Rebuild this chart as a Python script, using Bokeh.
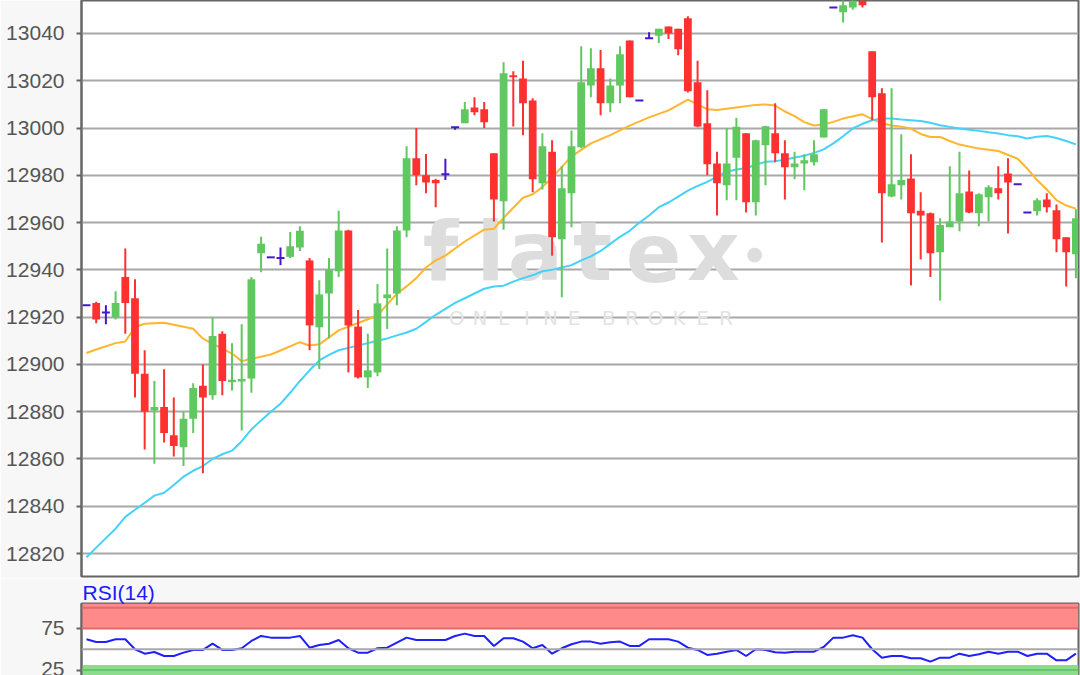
import numpy as np
from bokeh.plotting import figure
from bokeh.models import (Range1d, FixedTicker, Span, BoxAnnotation, Label,
                          ColumnDataSource, Title)
from bokeh.layouts import column
from bokeh.embed import file_html
from bokeh.resources import INLINE

# ---------------- data ----------------
opens = [12925, 12926, 12922, 12920, 12937, 12928, 12896, 12880.5, 12882, 12870,
         12865, 12877, 12891, 12887, 12913, 12892.5, 12892.8, 12894, 12947, 12945.3,
         12945, 12945.5, 12949.5, 12944, 12915.7, 12930, 12939.4, 12956.7, 12916, 12894.5,
         12896.6, 12928, 12930, 12956.7, 12987.2, 12980, 12978, 12980.4, 13000.3, 13002,
         13008.7, 13008, 12989.3, 12969, 13022.3, 13021, 13011.7, 12976.6, 12990, 12953,
         12972.4, 12991.9, 13018, 13025.3, 13010.5, 13018, 13037, 13011.7, 13038, 13039,
         13043, 13042, 13046.5, 13019.4, 13002, 12985, 12975.8, 12987.4, 12997.8, 12968.6,
         12992.7, 12997.8, 12989.3, 12983.4, 12985, 12985.5, 12996, 13051, 13049, 13051,
         13058, 13032.5, 13014.7, 12971, 12975.8, 12978.7, 12965, 12964, 12947.4, 12958,
         12960.5, 12973.2, 12964, 12970.7, 12974.5, 12980.8, 12976.2, 12964.3, 12964.8, 12969.8,
         12965.2, 12953.8, 12946.6]
highs = [12925, 12926.5, 12925, 12931, 12949, 12936, 12906, 12893, 12898, 12886,
         12880, 12892, 12900, 12920, 12914, 12909, 12917, 12937, 12954, 12945.3,
         12949.5, 12956, 12958.5, 12945, 12935.6, 12945, 12965, 12957, 12923, 12913,
         12934, 12949, 12958.4, 12992.3, 13000, 12989, 12978.5, 12987, 13000.3, 13011,
         13013, 13011, 12989.3, 13027.8, 13024, 13028.5, 13012.6, 12997.8, 12994.8, 12983.8,
         12999, 13034.6, 13033.8, 13033, 13021, 13034.6, 13037, 13011.7, 13040.5, 13042,
         13043, 13042, 13047.3, 13028.5, 13016, 12990, 13000, 13004.3, 12997.8, 12995,
         13001, 13010.5, 12994.8, 12990, 12988.9, 12994.8, 13008, 13051, 13055, 13058,
         13060, 13032.5, 13016.8, 13016.8, 12997.4, 12988.9, 12972.8, 12964.3, 12961.8, 12983.8,
         12990, 12982, 12972.4, 12975.8, 12983.8, 12987.2, 12976.2, 12964.3, 12970.3, 12972.4,
         12967.7, 12953.8, 12965.6]
lows = [12925, 12917.4, 12917, 12919, 12913, 12886, 12864, 12858, 12867, 12861,
        12857, 12871, 12854, 12885, 12887, 12889, 12872, 12888, 12939, 12945.3,
        12942, 12945, 12948, 12906, 12898, 12911, 12937, 12896.6, 12894, 12890,
        12895, 12915, 12925, 12953.8, 12975.8, 12972.4, 12966.5, 12978, 12999.3, 13002,
        13005.4, 13000, 12960.5, 12957, 13000.7, 12997, 12972.8, 12974, 12946, 12928.4,
        12958, 12991.4, 13013, 13005.4, 13006.7, 13010.5, 13013, 13011.7, 13038, 13036,
        13037.7, 13030.8, 13015, 13000.3, 12980, 12963, 12969.4, 12969.4, 12964.3, 12963,
        12975.8, 12985.5, 12969.8, 12978.3, 12973.7, 12984.2, 12996, 13051, 13044.6, 13050,
        13051, 13003.3, 12951.6, 12970.7, 12969.8, 12933.4, 12944.4, 12937, 12927, 12958,
        12956.3, 12964, 12958.4, 12960.5, 12969.8, 12955.4, 12976.2, 12964.3, 12963, 12964.3,
        12947.4, 12933, 12936.4]
closes = [12925, 12919, 12922, 12926, 12926, 12896, 12880, 12882, 12871, 12865.5,
          12877, 12890, 12886, 12912, 12893, 12893.5, 12893.8, 12936, 12951, 12945.3,
          12945, 12950, 12956.5, 12916.5, 12929.6, 12940, 12956.7, 12916.5, 12894.5, 12897.5,
          12925.8, 12929.6, 12956.7, 12987.2, 12980, 12977, 12976.6, 12980.4, 13000.3, 13008,
          13006.7, 13002.4, 12969.8, 13023.2, 13021.5, 13010.5, 12978.3, 12992.3, 12953.8, 12974.5,
          12992.3, 13019.4, 13025.3, 13010.5, 13018, 13031.2, 13013, 13011.7, 13038, 13042,
          13040, 13033.3, 13015.6, 13000.7, 12984.7, 12976.6, 12985, 13000.5, 12968.6, 12994.8,
          13000.8, 12989.3, 12983.4, 12985, 12986.4, 12988.9, 13008, 13051, 13052, 13056,
          13052, 13013, 12972.4, 12976.2, 12978, 12964, 12963, 12947, 12959, 12960.5,
          12972.4, 12964.3, 12972, 12975, 12972.4, 12977, 12976.2, 12964.3, 12969.4, 12966.5,
          12952.9, 12947.4, 12961.8]

# short moving average (orange), sampled at bar indices
ma_fast_idx = [0, 1, 3, 4, 5, 6, 8, 9, 11, 12, 13, 15, 16, 17, 19, 20, 22, 23, 24, 26,
               28, 30, 31, 32, 33, 34, 35, 36, 37, 39, 41, 42, 43, 45, 46, 47, 48, 50, 52, 54,
               56, 58, 60, 62, 63, 64, 65, 67, 69, 70, 71, 72, 73, 74, 75, 76, 77, 78, 80, 81,
               82, 83, 84, 85, 86, 87, 88, 89, 90, 92, 94, 96, 97, 98, 99, 100, 101, 102]
ma_fast_val = [12904.8, 12906.3, 12909.0, 12909.7, 12915.8, 12917.2, 12917.6, 12916.8, 12915.1, 12910.9,
               12908.8, 12904.6, 12901.4, 12902.4, 12904.2, 12905.9, 12909.4, 12908.0, 12908.5, 12914.4,
               12917.5, 12920.7, 12925.4, 12929.9, 12933.0, 12936.5, 12941.0, 12944.0, 12946.0, 12952.0,
               12957.0, 12957.4, 12962.0, 12970.5, 12972.0, 12975.0, 12979.0, 12988.0, 12993.5, 12997.0,
               13001.0, 13004.5, 13007.5, 13012.0, 13010.0, 13008.0, 13007.6, 13008.7, 13009.8, 13010.0,
               13009.5, 13007.0, 13005.0, 13002.5, 13001.1, 13001.5, 13002.6, 13004.0, 13005.8, 13003.8,
               13002.0, 13001.1, 13000.6, 12999.8, 12997.5, 12996.2, 12996.2, 12994.5, 12993.0, 12991.3,
               12990.3, 12987.0, 12982.8, 12978.0, 12974.0, 12969.5, 12967.2, 12965.9]

# long moving average (cyan), one value per bar
ma_slow_val = [12818.4, 12822.5, 12826.5, 12830.5, 12835.5, 12838.5, 12841.5, 12844.5, 12845.7, 12849.0,
               12852.5, 12855.0, 12857.0, 12860.0, 12862.0, 12863.5, 12867.5, 12872.5, 12876.3, 12880.0,
               12883.4, 12888.0, 12893.0, 12897.5, 12901.7, 12904.0, 12906.0, 12907.0, 12908.0, 12909.0,
               12910.0, 12911.0, 12912.3, 12913.5, 12915.1, 12918.0, 12921.0, 12923.5, 12926.0, 12928.0,
               12930.0, 12932.0, 12933.0, 12933.3, 12935.0, 12936.5, 12937.7, 12939.4, 12940.0, 12941.0,
               12942.0, 12944.0, 12945.7, 12948.0, 12951.0, 12954.0, 12956.5, 12960.0, 12963.0, 12966.5,
               12968.5, 12971.0, 12973.5, 12975.5, 12977.2, 12979.5, 12981.5, 12982.5, 12983.0, 12984.5,
               12985.7, 12986.0, 12986.6, 12987.5, 12988.3, 12989.5, 12991.0, 12993.5, 12996.5, 12999.8,
               13001.8, 13003.3, 13004.0, 13004.0, 13003.6, 13003.3, 13003.0, 13002.2, 13001.2, 13000.5,
               12999.8, 12999.3, 12998.8, 12998.2, 12997.7, 12997.0, 12996.5, 12995.6, 12996.3, 12996.6,
               12995.8, 12994.5, 12993.1]

rsi_val = [62, 58.8, 58.8, 62, 62, 50, 44.7, 46.7, 41.9, 41.9,
           45.9, 49.2, 49.2, 56.7, 49.2, 49.2, 51.2, 60, 66, 64,
           64, 64, 66, 51.9, 55.2, 56.7, 61.2, 51.2, 45.9, 45.9,
           51.2, 51.9, 58, 64, 61.2, 61.2, 61.2, 61.2, 66, 68.8,
           66, 66, 54, 63.3, 63.3, 59.2, 51.2, 55.2, 44.7, 51.2,
           56, 59.2, 59.2, 56.7, 58.5, 59.2, 54, 54, 62, 62,
           62, 59.2, 51.9, 49.2, 43.1, 44.7, 47, 49.2, 41.9, 50,
           49.2, 46.5, 45.9, 47.1, 47.1, 47.1, 52.8, 64, 64, 66.9,
           64, 50, 39.9, 41.9, 41.9, 39.2, 39.2, 35.1, 39.9, 39.9,
           44.7, 41.9, 44, 47.1, 44.7, 47.1, 47.1, 41.9, 44.7, 44.7,
           36.7, 36.7, 44.7]

price_ticks = [12820, 12840, 12860, 12880, 12900, 12920, 12940, 12960, 12980, 13000, 13020, 13040]
rsi_ticks = [25, 75]
rsi_label = "RSI(14)"
wm_letters = ["f", "l", "a", "t", "e", "x"]
wm_sub_words = ["ONLINE", "BROKER"]

# ---------------- styles ----------------
GREEN = "#5fc85f"
RED = "#ff3030"
BLUE = "#4418cc"
ORANGE = "#ffb52e"
CYAN = "#44d2fa"
RSI_BLUE = "#1f1fff"
GRID = "#a8a8a8"
BORDER = "#666666"
BG = "#f7f7f7"
TXT = "#555555"
FONT = "Liberation Sans"

o = np.array(opens, float); h = np.array(highs, float)
l = np.array(lows, float); c = np.array(closes, float)
idx = np.arange(len(o))
inc = c > o
dec = c < o
doj = c == o

x_rng = Range1d(-0.515, 102.27)

p = figure(width=1080, height=578, x_range=x_rng, y_range=Range1d(12810.27, 13053.96),
           output_backend="svg", toolbar_location=None, x_axis_location=None,
           min_border_left=81, min_border_right=2, min_border_top=0, min_border_bottom=2,
           background_fill_color="white", border_fill_color=BG)
p.outline_line_color = BORDER
p.outline_line_width = 2
p.xgrid.visible = False
p.ygrid.grid_line_color = GRID
p.ygrid.grid_line_width = 2
ax = p.yaxis[0]
ax.ticker = FixedTicker(ticks=price_ticks)
ax.axis_line_color = BORDER
ax.axis_line_width = 2
ax.major_tick_line_color = BORDER
ax.major_tick_line_width = 2
ax.major_tick_out = 5
ax.major_tick_in = 0
ax.minor_tick_line_color = None
ax.major_label_standoff = 12
ax.major_label_text_font = FONT
ax.major_label_text_font_size = "21px"
ax.major_label_text_color = TXT

# watermark
wm_x = [359, 409, 454, 511, 572, 632]
for ch, xx in zip(wm_letters, wm_x):
    p.add_layout(Label(x=xx, y=325, x_units="screen", y_units="screen", text=ch,
                       text_font="DejaVu Sans", text_font_style="bold", text_font_size="82px",
                       text_color="#dddddd", text_align="center", text_baseline="alphabetic",
                       level="underlay"))
p.add_layout(Label(x=673, y=324, x_units="screen", y_units="screen", text="\u25cf",
                   text_font="DejaVu Sans", text_font_size="19px", text_color="#dddddd",
                   text_align="center", text_baseline="middle", level="underlay"))
sub_start = [375, 527]
for word, x0 in zip(wm_sub_words, sub_start):
    for k, ch in enumerate(word):
        p.add_layout(Label(x=x0 + 23.5 * k, y=259, x_units="screen", y_units="screen", text=ch,
                           text_font="DejaVu Sans", text_font_size="20px", text_color="#e3e3e3",
                           text_align="center", text_baseline="alphabetic", level="underlay"))

# moving averages
p.line(ma_fast_idx, ma_fast_val, line_color=ORANGE, line_width=2)
p.line(list(idx), ma_slow_val, line_color=CYAN, line_width=2)

# candles
for mask, col in ((inc, GREEN), (dec, RED)):
    src = ColumnDataSource(dict(x=idx[mask], h=h[mask], l=l[mask],
                                top=np.maximum(o[mask], c[mask]),
                                bot=np.minimum(o[mask], c[mask])))
    p.segment(x0="x", y0="h", x1="x", y1="l", source=src, line_color=col, line_width=2)
    p.vbar(x="x", width=0.8, top="top", bottom="bot", source=src,
           fill_color=col, line_color=None)
dsrc = ColumnDataSource(dict(x=idx[doj], h=h[doj], l=l[doj], y=o[doj]))
p.segment(x0="x", y0="h", x1="x", y1="l", source=dsrc, line_color=BLUE, line_width=2)
p.scatter(x="x", y="y", source=dsrc, marker="dash", size=8, line_color=BLUE, line_width=2)

# ---------------- RSI panel ----------------
rsi_title = Title(text=rsi_label, align="left", offset=1, standoff=0,
                  text_font=FONT, text_font_size="21px", text_font_style="normal",
                  text_color="#1a1aff")
r = figure(width=1080, height=97, x_range=x_rng, y_range=Range1d(18.4, 105.1),
           output_backend="svg", toolbar_location=None, x_axis_location=None,
           min_border_left=81, min_border_right=2, min_border_top=0, min_border_bottom=0,
           background_fill_color="white", border_fill_color=BG, title=rsi_title)
r.outline_line_color = BORDER
r.outline_line_width = 2
r.xgrid.visible = False
r.ygrid.visible = False
ra = r.yaxis[0]
ra.ticker = FixedTicker(ticks=rsi_ticks)
ra.axis_line_color = BORDER
ra.axis_line_width = 2
ra.major_tick_line_color = BORDER
ra.major_tick_line_width = 2
ra.major_tick_out = 5
ra.major_tick_in = 0
ra.minor_tick_line_color = None
ra.major_label_standoff = 12
ra.major_label_text_font = FONT
ra.major_label_text_font_size = "21px"
ra.major_label_text_color = TXT

r.add_layout(BoxAnnotation(bottom=75, fill_color="#ff8a8a", fill_alpha=1.0,
                           line_color=None, level="underlay"))
r.add_layout(BoxAnnotation(top=31, fill_color="#8ddc8d", fill_alpha=1.0,
                           line_color=None, level="underlay"))
r.add_layout(Span(location=100, dimension="width", line_color="#e46a6a", line_width=2))
r.add_layout(Span(location=75, dimension="width", line_color="#e46a6a", line_width=2))
r.add_layout(Span(location=25, dimension="width", line_color="#6cc46c", line_width=2))
r.add_layout(Span(location=50, dimension="width", line_color=GRID, line_width=2))
r.line(list(idx), rsi_val, line_color=RSI_BLUE, line_width=2)

layout = column(p, r, spacing=0)
open("out.html", "w").write(file_html(layout, INLINE))
